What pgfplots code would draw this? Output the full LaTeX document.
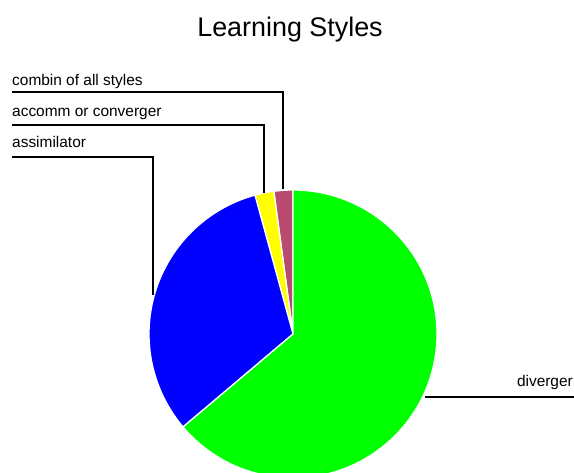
\documentclass[border=0pt]{standalone}
\usepackage{pgfplots}
\usepackage{pgfplotstable}
\pgfplotsset{compat=1.18}
\usepackage{fontspec}
\setmainfont{Liberation Sans}
\definecolor{piemag}{RGB}{185,75,112}
\definecolor{pieyel}{RGB}{255,255,0}
\definecolor{pieblu}{RGB}{0,0,255}
\definecolor{piegrn}{RGB}{0,255,0}
\pgfplotstableread{
label value color
combin 2 piemag
accomm 2 pieyel
assim 30 pieblu
diverg 60 piegrn
}\piedata
\begin{document}
\begin{tikzpicture}
\begin{axis}[width=574bp,height=473bp,scale only axis,at={(0,0)},anchor=south west,
  xmin=0,xmax=574,ymin=0,ymax=473,axis lines=none,clip=true]
\pgfplotstablegetrowsof{\piedata}
\pgfmathtruncatemacro{\nrows}{\pgfplotsretval-1}
\def\total{0}
\pgfplotsforeachungrouped \i in {0,...,\nrows}{%
  \pgfplotstablegetelem{\i}{value}\of{\piedata}\let\val\pgfplotsretval
  \pgfmathsetmacro{\total}{\total+\val}%
}
\def\cum{0}
\pgfplotsforeachungrouped \i in {0,...,\nrows}{%
  \pgfplotstablegetelem{\i}{value}\of{\piedata}\let\val\pgfplotsretval
  \pgfplotstablegetelem{\i}{color}\of{\piedata}\let\col\pgfplotsretval
  \pgfmathsetmacro{\sa}{90+\cum/\total*360}%
  \pgfmathsetmacro{\ea}{90+(\cum+\val)/\total*360}%
  \edef\temp{\noexpand\fill[\col,draw=white,line width=1.3bp,line join=round] (axis cs:293,139) -- ++(\sa:144bp) arc[start angle=\sa,end angle=\ea,radius=144bp] -- cycle;}%
  \temp
  \pgfmathsetmacro{\cum}{\cum+\val}%
}
% leader lines
\draw[black,line width=1.2bp] (axis cs:12,381) -- (axis cs:283,381) -- (axis cs:283,284);
\draw[black,line width=1.2bp] (axis cs:12,348) -- (axis cs:264,348) -- (axis cs:264,280);
\draw[black,line width=1.2bp] (axis cs:12,316) -- (axis cs:153,316) -- (axis cs:153,178);
\draw[black,line width=1.2bp] (axis cs:425,76) -- (axis cs:574,76);
% labels
\node[anchor=base west,inner sep=0pt,font=\fontsize{15.5}{18}\selectfont] at (axis cs:12,387) {combin of all styles};
\node[anchor=base west,inner sep=0pt,font=\fontsize{15.5}{18}\selectfont] at (axis cs:12,356) {accomm or converger};
\node[anchor=base west,inner sep=0pt,font=\fontsize{15.5}{18}\selectfont] at (axis cs:12,325) {assimilator};
\node[anchor=base east,inner sep=0pt,font=\fontsize{15.5}{18}\selectfont] at (axis cs:573,86) {diverger};
\node[anchor=base,inner sep=0pt,font=\fontsize{27}{31}\selectfont] at (axis cs:290,436) {Learning Styles};
\end{axis}
\pgfresetboundingbox
\path[use as bounding box] (0,0) rectangle (574bp,473bp);
\end{tikzpicture}
\end{document}
